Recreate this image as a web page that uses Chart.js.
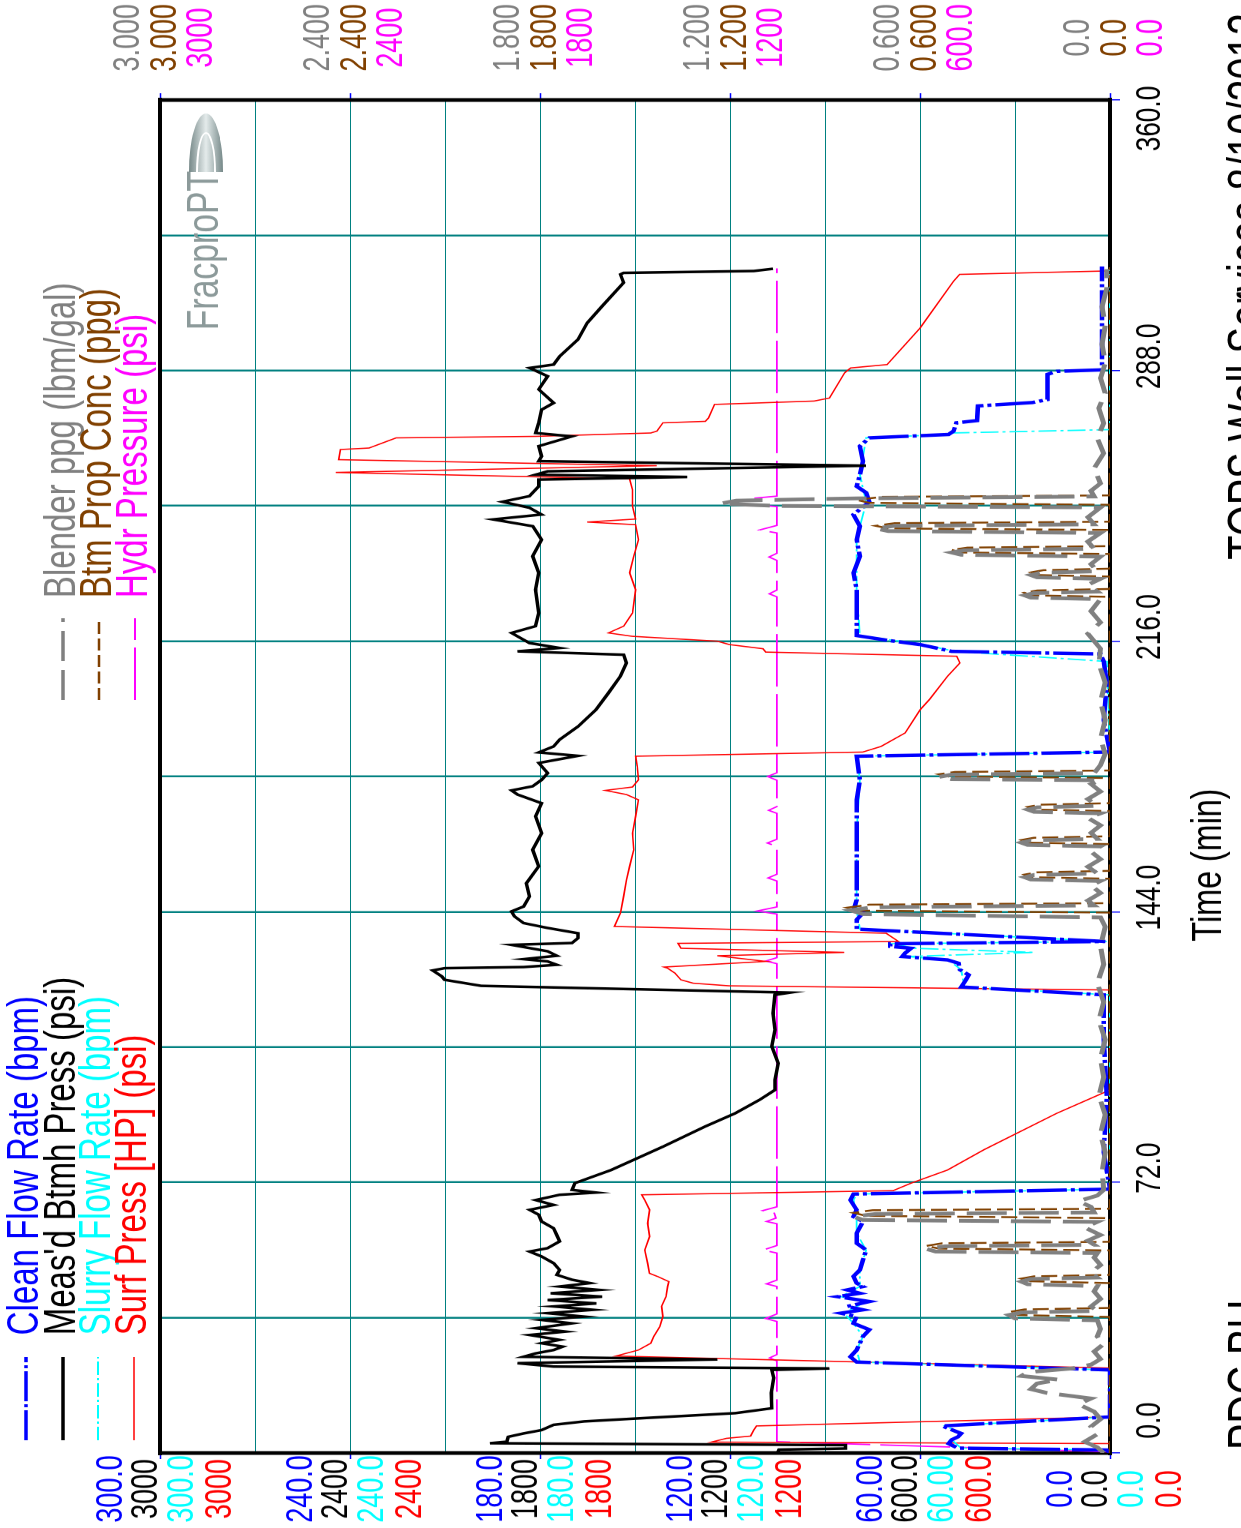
<!DOCTYPE html>
<html>
<head>
<meta charset="utf-8">
<script src="https://cdn.jsdelivr.net/npm/chart.js@4.4.0/dist/chart.umd.min.js"></script>
<style>
  html, body { margin: 0; padding: 0; background: #fff; overflow: hidden; }
  body { width: 1241px; height: 1528px; position: relative; }
  /* chart is drawn landscape, then turned to portrait like the printout */
  #wrap { position: absolute; left: 0; top: 0; width: 2037px; height: 1241px;
          transform-origin: 0 0; transform: translateY(1528px) rotate(-90deg) scaleX(0.75); }
</style>
</head>
<body>
<div id="wrap"><canvas id="chart" width="2037" height="1241"></canvas></div>
<script>
// ---- data: [time (min), value] ----
const cleanFlowRate = [[0,0],[0.8,1],[1.3,48],[2.5,51],[3.5,50],[4.3,48],[5.2,47],[6.2,50],[7.2,53],[9.6,0],[22.1,0],[24.2,80],[25.6,82],[27.4,80],[29.2,79],[31.0,78],[32.8,76],[34.5,81],[36.3,80],[37.2,85],[38.1,78],[39.0,83],[40.3,76],[41.6,86],[42.5,79],[43.4,83],[44.3,78],[45.2,80],[47.0,81],[48.7,79],[51.4,78],[54.0,77],[55.8,80],[58.5,80],[61.6,78],[62.9,81],[64.7,80],[67.3,82],[68.9,81],[70.2,0],[80,2],[95,1],[110,2],[121.9,2],[124.0,47],[125.9,45.5],[127.2,44.6],[128.6,47.4],[130.3,47.8],[131.2,51.3],[132.1,65.6],[133.0,64.7],[134.3,62.8],[134.8,69.4],[135.5,69.4],[136.1,1.5],[139.4,80],[141.9,80],[143.7,78],[144.5,81],[147.2,80],[152.5,80],[156.1,80],[164.9,80],[173.8,80],[179.1,79],[185.4,80],[186.5,0],[195,2],[205,1],[210.6,2],[212.6,3],[213.3,50],[215.1,60],[216.2,70],[217.5,80],[223.5,80],[229.7,80],[234.2,81],[238.6,79],[243.0,80],[246.6,79],[249.7,81],[253.1,76],[255.5,77],[257.2,80],[260.3,79],[263.9,78],[267.9,79],[270.1,76],[271.0,51],[271.9,49.4],[274.1,48.5],[274.7,42],[278.6,41.7],[279.5,24.5],[280.3,19.7],[287.0,19.7],[287.8,16.8],[288.2,2.5],[300,2.5],[315.7,2.5]];

const btmhPress = [[0,1050],[0.9,1045],[1.2,835],[2.1,835],[2.6,1958],[3.0,1905],[4.3,1900],[5.2,1852],[6.1,1795],[7.5,1757],[8.4,1661],[9.3,1470],[10.6,1183],[11.9,1068],[16,1070],[20,1062],[22.1,1068],[22.5,886],[23.0,1757],[23.9,1871],[24.9,1240],[25.6,1852],[26.5,1814],[27.4,1757],[28.3,1728],[29.2,1795],[30.1,1738],[31.4,1833],[32.3,1719],[33.2,1814],[34.5,1699],[35.4,1795],[36.3,1661],[37.2,1776],[38.1,1632],[39.0,1757],[39.8,1622],[40.7,1776],[41.6,1604],[42.5,1766],[43.4,1613],[44.3,1738],[45.2,1642],[46.1,1699],[47.4,1747],[48.7,1738],[50.5,1757],[52.3,1795],[53.6,1833],[54.5,1776],[56.3,1738],[58.0,1747],[59.8,1757],[61.6,1795],[63.4,1804],[64.7,1833],[66.0,1757],[67.3,1814],[68.7,1738],[69.3,1623],[70.0,1699],[71.8,1690],[75.3,1575],[81.5,1412],[86.9,1278],[90.4,1183],[94.0,1106],[96.6,1058],[99.3,1058],[103.7,1048],[108.2,1068],[112.6,1058],[117.0,1064],[121.9,1058],[122.5,1010],[123.7,1661],[124.3,1986],[125.9,2101],[126.8,2110],[128.4,2139],[129.0,2101],[129.3,1852],[129.9,1747],[130.8,1776],[131.4,1852],[132.3,1747],[133.5,1776],[135.2,1890],[135.7,1699],[137.0,1680],[138.3,1680],[139.7,1776],[141.0,1852],[142.8,1881],[144.1,1890],[145.4,1852],[148.1,1833],[151.6,1843],[156.1,1804],[160.5,1823],[164.9,1795],[169.4,1814],[172.9,1795],[175.2,1871],[176.3,1890],[177.4,1823],[179.1,1795],[180.9,1776],[183.6,1804],[185.5,1680],[186.4,1804],[188.0,1757],[189.8,1738],[193.3,1680],[197.8,1623],[202.2,1584],[206.7,1546],[210.2,1527],[212.4,1536],[213.3,1871],[214.2,1738],[215.5,1833],[218.2,1890],[220.0,1814],[223.5,1804],[229.7,1814],[234.2,1804],[238.6,1823],[243.0,1795],[246.6,1823],[248.4,1948],[249.7,1795],[251.5,1833],[253.1,1919],[254.6,1833],[257.2,1804],[259.0,1804],[259.7,1335],[260.3,1814],[261.2,1776],[262.7,771],[263.9,1804],[265.2,1795],[267.9,1804],[270.5,1699],[271.4,1814],[274.1,1804],[277.6,1795],[279.4,1757],[283.0,1804],[286.5,1776],[288.7,1833],[289.6,1757],[291.8,1738],[296.3,1680],[300.7,1651],[305.1,1604],[311.4,1536],[313.6,1546],[314.0,1536],[314.5,1125],[315.1,1064]];

const slurryFlowRate = [[0,0],[0.8,1],[1.3,47],[3.5,50],[5.2,47],[7.2,52],[9.6,0],[22.1,0],[24.2,79],[27.4,80],[31.0,78],[34.5,81],[37.2,84],[40.3,77],[41.6,85],[44.3,79],[48.7,79],[54.0,77],[58.5,80],[62.9,80],[67.3,81],[68.9,80],[70.2,0],[121.9,0],[124.0,46],[128.6,47],[131.2,51],[132.1,64],[133.2,24],[134.3,62],[135.5,68],[136.1,1],[139.4,79],[144.5,80],[152.5,80],[164.9,80],[179.1,79],[185.4,80],[186.5,0],[210.6,1],[213.3,49],[215.1,59],[217.5,79],[229.7,80],[243.0,80],[253.1,77],[260.3,79],[270.1,77],[271.0,52],[271.4,50],[272.3,0],[315.7,0]];

const surfPress = [[0,0],[2.5,0],[2.9,1259],[3.9,1211],[4.5,1135],[6.1,1125],[7.2,1116],[9.6,0],[22.6,0],[25.8,1560],[27.4,1489],[29.2,1450],[31.0,1441],[33.6,1422],[36.3,1412],[39.0,1416],[41.6,1402],[44.3,1397],[45.6,1393],[46.9,1427],[47.8,1454],[50.5,1460],[54.0,1469],[57.6,1454],[61.1,1460],[64.7,1454],[67.3,1469],[68.7,1479],[69.8,685],[71.8,628],[75.3,513],[80.7,398],[81.5,379],[90.4,168],[96.6,0],[123.2,0],[124.3,1202],[125.0,1316],[125.9,1355],[127.7,1374],[129.0,1397],[129.3,1408],[130.8,1087],[132.3,1240],[133.2,839],[134.3,1355],[135.6,1364],[136.1,668],[138.3,707],[140.1,1565],[143.7,1546],[148.1,1536],[152.5,1527],[156.1,1517],[160.5,1504],[164.9,1508],[169.4,1498],[173.8,1489],[175.2,1527],[176.3,1594],[177.2,1508],[179.1,1489],[182.7,1493],[185.4,1498],[186.5,781],[188.0,723],[191.6,647],[197.8,599],[200.5,570],[206.7,513],[210.2,474],[212.0,484],[213.1,1087],[214.0,1096],[215.1,1202],[216.0,1240],[217.3,1508],[218.2,1584],[220.0,1536],[223.5,1508],[229.7,1498],[234.2,1517],[238.6,1504],[243.0,1489],[247.0,1498],[247.7,1651],[248.5,1498],[251.9,1508],[256.3,1508],[259.2,1517],[260.9,2445],[262.7,1431],[264.3,2436],[267.0,2430],[267.4,2340],[269.2,2283],[270.1,2254],[270.5,1814],[271.4,1450],[271.9,1431],[274.1,1412],[274.5,1278],[275.4,1268],[279.0,1249],[279.9,934],[280.7,886],[287.4,838],[288.7,819],[289.6,704],[299.4,599],[311.8,494],[313.6,475],[314.5,15]];

const blenderPpg = [[0,0.02],[1.5,0.04],[3,0.08],[5,0.04],[7,0.06],[9,0.03],[11,0.05],[13,0.10],[14.5,0.06],[16,0.20],[17,0.25],[18.5,0.23],[19.5,0.16],[20.5,0.28],[21.5,0.26],[22.5,0.12],[23.5,0.06],[25,0.03],[27,0.05],[29,0.02],[31,0.04],[33,0.03],[35.3,0.04],[35.8,0.30],[36.7,0.32],[37.4,0.28],[37.8,0.04],[39,0.06],[41,0.03],[43,0.05],[44.4,0.04],[44.9,0.26],[45.6,0.28],[46.3,0.25],[46.7,0.04],[48,0.06],[50,0.03],[52,0.05],[53.2,0.04],[53.6,0.55],[54.3,0.58],[55.0,0.52],[55.4,0.05],[56.5,0.07],[58,0.03],[60,0.08],[61.5,0.04],[62.0,0.78],[62.9,0.81],[63.6,0.74],[64.0,0.05],[65.5,0.06],[67,0.10],[68.5,0.04],[70,0.02],[75,0.025],[80,0.015],[85,0.03],[90,0.015],[95,0.035],[100,0.02],[105,0.03],[110,0.015],[115,0.035],[120,0.02],[125,0.04],[130,0.02],[135,0.03],[140,0.015],[142.5,0.03],[143.4,0.78],[144.4,0.82],[145.2,0.75],[145.7,0.05],[147,0.07],[149,0.03],[151,0.06],[152.2,0.03],[152.6,0.25],[153.2,0.27],[153.8,0.24],[154.2,0.04],[156,0.07],[158,0.03],[160,0.06],[161.4,0.03],[161.8,0.26],[162.4,0.28],[163.0,0.25],[163.4,0.04],[165,0.06],[167,0.03],[169,0.07],[170.2,0.03],[170.6,0.24],[171.2,0.26],[171.8,0.23],[172.2,0.04],[174,0.07],[176,0.03],[178,0.06],[179.0,0.03],[179.3,0.50],[179.9,0.54],[180.5,0.50],[180.9,0.05],[183,0.03],[186,0.015],[190,0.03],[195,0.015],[200,0.03],[205,0.015],[210,0.035],[214,0.03],[218,0.07],[221,0.03],[224,0.06],[227.2,0.03],[227.6,0.25],[228.2,0.27],[228.8,0.24],[229.2,0.04],[231,0.07],[232.6,0.03],[233.0,0.23],[233.6,0.25],[234.2,0.22],[234.6,0.04],[236.5,0.06],[238.5,0.03],[239.0,0.47],[239.6,0.50],[240.2,0.46],[240.6,0.05],[242.5,0.07],[244.8,0.03],[245.3,0.70],[246.0,0.74],[246.7,0.68],[247.1,0.05],[249,0.07],[251.6,0.03],[252.0,1.05],[252.6,1.23],[253.4,1.18],[254.0,0.80],[254.5,0.05],[256,0.06],[258,0.03],[262,0.05],[266,0.02],[270,0.04],[274,0.02],[278,0.035],[282,0.015],[286,0.03],[290,0.015],[295,0.025],[300,0.015],[305,0.025],[310,0.01],[315,0.01]];

const btmPropConc = [[0,0],[36.2,0],[36.7,0.29],[37.5,0.32],[38.2,0.27],[38.6,0],[45.2,0],[45.7,0.25],[46.4,0.28],[47.0,0.24],[47.4,0],[53.9,0],[54.4,0.54],[55.1,0.58],[55.8,0.53],[56.2,0],[62.5,0],[63.1,0.77],[63.9,0.81],[64.6,0.75],[65.0,0],[143.8,0],[144.3,0.79],[145.1,0.83],[145.9,0.76],[146.3,0],[152.8,0],[153.2,0.25],[153.9,0.27],[154.5,0.23],[154.9,0],[162.0,0],[162.4,0.26],[163.1,0.28],[163.7,0.24],[164.1,0],[170.8,0],[171.2,0.24],[171.9,0.26],[172.5,0.22],[172.9,0],[179.6,0],[180.0,0.51],[180.6,0.54],[181.2,0.49],[181.6,0],[227.8,0],[228.2,0.25],[228.9,0.27],[229.5,0.23],[229.9,0],[233.2,0],[233.6,0.23],[234.3,0.25],[234.9,0.21],[235.3,0],[239.2,0],[239.6,0.47],[240.3,0.50],[240.9,0.45],[241.3,0],[245.6,0],[246.0,0.70],[246.7,0.74],[247.4,0.68],[247.8,0],[252.3,0],[252.8,0.76],[253.6,0.80],[254.4,0.72],[254.8,0],[315.5,0]];

const hydrPress = [[0.3,0],[3.0,1052],[24.5,1052],[25.3,1075],[26.2,1052],[35.0,1052],[35.8,1088],[37.0,1052],[44.3,1052],[45.0,1085],[46.0,1052],[53.2,1052],[54.0,1096],[55.2,1052],[61.0,1052],[61.6,1085],[62.5,1055],[63.8,1060],[64.5,1096],[65.5,1052],[130.2,1052],[130.9,1087],[131.8,1052],[143.4,1052],[144.2,1115],[145.3,1052],[152.2,1052],[153.0,1080],[154.0,1052],[161.4,1052],[162.3,1082],[163.3,1052],[170.2,1052],[171.0,1078],[172.0,1052],[179.0,1052],[180.0,1081],[181.0,1052],[227.8,1052],[228.6,1076],[229.6,1052],[237.5,1052],[238.4,1077],[239.4,1052],[244.8,1052],[245.6,1106],[246.8,1052],[251.8,1052],[252.4,1135],[254.0,1130],[254.6,1052],[315.2,1052]];

// ---- colours ----
const BLUE = '#0000ff', CYAN = '#00ffff', RED = '#ff0000', GRAY = '#808080', BROWN = '#804000', MAGENTA = '#ff00ff';
const TEAL = '#008080';
const FONT = '"Liberation Sans", Arial, sans-serif';

Chart.defaults.font.family = FONT;

function pts(arr) {
    return arr.map(p => ({ x: p[0], y: p[1] }));
}

// tick label formats as printed by the frac software
const fmtPress = (v, i) => i % 2 ? '' : (v === 0 ? '0.0' : v.toPrecision(4));
const fmtConc = (v, i) => i % 2 ? '' : (v === 0 ? '0.0' : v.toFixed(3));
const tickBlue = ctx => ctx.index % 2 === 0 ? BLUE : 'rgba(0,0,0,0)';

// one value axis; several share a side: all but the outer one get zero width,
// labels are "mirrored" so they are not clipped to the empty box
function valueAxis(pos, weight, max, color, offset, fmt, width) {
    return {
        type: 'linear', position: pos, weight: weight, min: 0, max: max,
        border: { display: false },
        grid: { display: false, drawTicks: false },
        ticks: {
            stepSize: max / 10, autoSkip: false, color: color, crossAlign: 'center',
            mirror: true, labelOffset: offset, padding: pos === 'left' ? -93 : 128,
            font: { size: 36 }, callback: fmt
        },
        afterFit: s => {
            s.width = width || 0;
            // the big label padding must not shrink the plot
            s.paddingTop = 0;
            s.paddingBottom = 0;
        }
    };
}

const scales = {
    x: {
        type: 'linear', position: 'bottom', min: 0, max: 360,
        border: { display: false },
        grid: { color: TEAL, lineWidth: 2.5, tickColor: tickBlue, tickLength: 10, tickWidth: 1.5 },
        ticks: {
            stepSize: 36, autoSkip: false, maxRotation: 0, align: 'inner', labelOffset: 19,
            padding: 9, color: '#000', font: { size: 35 },
            callback: (v, i) => i % 2 ? '' : v.toFixed(1)
        },
        afterFit: s => { s.height = 131; s.paddingLeft = 0; s.paddingRight = 0; }
    },
    yClean: valueAxis('left', 1, 300, BLUE, -48, fmtPress),
    yBtmh: valueAxis('left', 2, 3000, '#000', -13, fmtPress),
    ySlurry: valueAxis('left', 3, 300, CYAN, 23, fmtPress),
    ySurf: valueAxis('left', 4, 3000, RED, 61, fmtPress, 100),
    yBlender: valueAxis('right', 1, 3, GRAY, -31, fmtConc),
    yProp: valueAxis('right', 2, 3, BROWN, 6, fmtConc),
    yHydr: valueAxis('right', 3, 3000, MAGENTA, 42, fmtPress, 133)
};
// grid lines + blue tick marks
scales.yBtmh.grid = { display: true, color: TEAL, lineWidth: 1, drawTicks: true, tickLength: 8, tickColor: tickBlue, tickWidth: 1.5 };
scales.yBlender.grid = { display: true, drawOnChartArea: false, drawTicks: true, tickLength: 9, tickColor: tickBlue, tickWidth: 1.5 };

const datasets = [
    { label: 'Clean Flow Rate (bpm)', data: pts(cleanFlowRate), yAxisID: 'yClean', borderColor: BLUE, borderWidth: 4.5, borderDash: [40, 4, 4, 4], order: 4 },
    { label: "Meas'd Btmh Press (psi)", data: pts(btmhPress), yAxisID: 'yBtmh', borderColor: '#000', borderWidth: 3.5, order: 3 },
    { label: 'Slurry Flow Rate (bpm)', data: pts(slurryFlowRate), yAxisID: 'ySlurry', borderColor: CYAN, borderWidth: 1.8, borderDash: [18, 4, 3, 4], order: 5 },
    { label: 'Surf Press [HP] (psi)', data: pts(surfPress), yAxisID: 'ySurf', borderColor: RED, borderWidth: 1.6, order: 6 },
    { label: 'Blender ppg (lbm/gal)', data: pts(blenderPpg), yAxisID: 'yBlender', borderColor: GRAY, borderWidth: 5, borderDash: [40, 12], order: 1 },
    { label: 'Btm Prop Conc (ppg)', data: pts(btmPropConc), yAxisID: 'yProp', borderColor: BROWN, borderWidth: 2.5, borderDash: [16, 6], order: 2 },
    { label: 'Hydr Pressure (psi)', data: pts(hydrPress), yAxisID: 'yHydr', borderColor: MAGENTA, borderWidth: 1.8, borderDash: [70, 10], order: 7 }
];

// legend rows: [dataset index, column, row centre]
const legendRows = [[0, 0, 26], [1, 0, 63], [2, 0, 98], [3, 0, 134], [4, 1, 63], [5, 1, 99], [6, 1, 135]];
const legendCols = [{ x0: 117, x1: 228, tx: 257 }, { x0: 1104, x1: 1213, tx: 1240 }];

// frame, legend, axis title, logo and footer
const decor = {
    id: 'decor',
    beforeDatasetsDraw(chart) {
        const { ctx, chartArea: a } = chart;
        ctx.save();
        ctx.strokeStyle = '#000';
        ctx.lineWidth = 4;
        ctx.beginPath();
        ctx.moveTo(a.left - 3, a.top); ctx.lineTo(a.right + 3, a.top);
        ctx.moveTo(a.left - 3, a.bottom); ctx.lineTo(a.right + 3, a.bottom);
        ctx.stroke();
        ctx.lineWidth = 5;
        ctx.beginPath();
        ctx.moveTo(a.left, a.top); ctx.lineTo(a.left, a.bottom);
        ctx.moveTo(a.right, a.top); ctx.lineTo(a.right, a.bottom);
        ctx.stroke();
        ctx.restore();
    },
    afterDraw(chart) {
        const ctx = chart.ctx;
        ctx.save();
        ctx.font = '44px ' + FONT;
        ctx.textBaseline = 'middle';
        ctx.textAlign = 'left';
        legendRows.forEach(([i, c, y]) => {
            const ds = chart.data.datasets[i];
            const col = legendCols[c];
            ctx.strokeStyle = ds.borderColor;
            ctx.lineWidth = Math.min(ds.borderWidth, 3.5);
            ctx.setLineDash(ds.borderDash || []);
            ctx.beginPath();
            ctx.moveTo(col.x0, y); ctx.lineTo(col.x1, y);
            ctx.stroke();
            ctx.fillStyle = ds.borderColor;
            ctx.fillText(ds.label, col.tx, y);
        });
        ctx.setLineDash([]);

        // axis title
        ctx.fillStyle = '#000';
        ctx.font = '43px ' + FONT;
        ctx.textBaseline = 'alphabetic';
        ctx.textAlign = 'center';
        ctx.fillText('Time (min)', 884, 1221);

        // footer (mostly cut off at the page edge)
        ctx.font = '53px ' + FONT;
        ctx.textAlign = 'left';
        ctx.fillText('PDC BU', 104, 1265);
        ctx.fillText('TOPS Well Services 8/10/2012', 1291, 1265);

        // logo
        ctx.fillStyle = '#8c9a9a';
        ctx.font = '45px ' + FONT;
        ctx.fillText('FracproPT', 1597, 218);
        const g = ctx.createLinearGradient(0, 188, 0, 224);
        g.addColorStop(0, '#6f8282');
        g.addColorStop(0.5, '#e4ebeb');
        g.addColorStop(1, '#6f8282');
        ctx.fillStyle = g;
        ctx.beginPath();
        ctx.ellipse(1808, 206, 78, 17, 0, -Math.PI / 2, Math.PI / 2);
        ctx.closePath();
        ctx.fill();
        ctx.strokeStyle = '#ffffff';
        ctx.lineWidth = 2;
        ctx.beginPath();
        ctx.ellipse(1808, 206, 52, 9, 0, -Math.PI / 2, Math.PI / 2);
        ctx.stroke();
        ctx.restore();
    }
};

function main() {
    const ctx = document.getElementById('chart').getContext('2d');
    new Chart(ctx, {
        type: 'line',
        data: { datasets: datasets },
        options: {
            responsive: false,
            animation: false,
            devicePixelRatio: 1,
            layout: { padding: { top: 160, left: 0, right: 0, bottom: 0 } },
            elements: { point: { radius: 0 }, line: { tension: 0, fill: false } },
            plugins: { legend: { display: false }, tooltip: { enabled: false } },
            scales: scales
        },
        plugins: [decor]
    });
}

main();
</script>
</body>
</html>
